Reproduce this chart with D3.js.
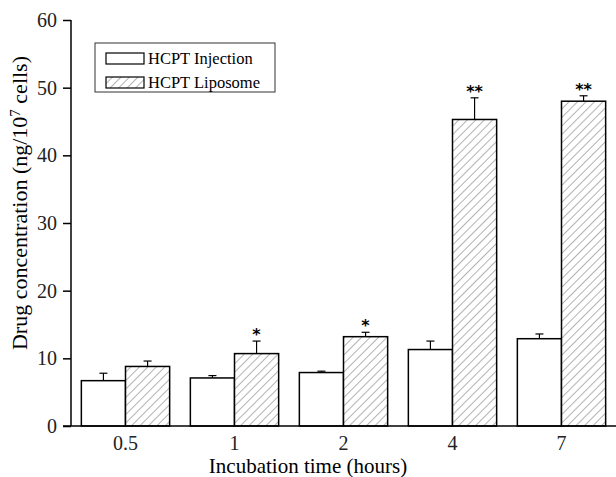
<!DOCTYPE html>
<html>
<head>
<meta charset="utf-8">
<script src="https://cdn.jsdelivr.net/npm/d3@7"></script>
<style>
  body { margin: 0; background: #fff; }
  svg text { font-family: "Liberation Serif", "Times New Roman", "DejaVu Serif", serif; }
  svg text.star { font-family: "DejaVu Sans", sans-serif; }
</style>
</head>
<body>
<script>
const categories = ["0.5", "1", "2", "4", "7"];
const series = ["HCPT Injection", "HCPT Liposome"];
const injection = [6.7, 7.1, 7.9, 11.3, 12.9];
const injectionErr = [1.1, 0.35, 0.2, 1.25, 0.7];
const liposome = [8.8, 10.7, 13.2, 45.3, 48.0];
const liposomeErr = [0.8, 1.85, 0.65, 3.2, 0.8];
const stars = ["", "*", "*", "**", "**"];
const yTicks = [0, 10, 20, 30, 40, 50, 60];

const w = 616;
const h = 477;
const mLeft = 71, mRight = 616, mTop = 20, mBottom = 426;

const svg = d3.select("body").append("svg").attr("width", w).attr("height", h);

const defs = svg.append("defs");
const pat = defs.append("pattern")
  .attr("id", "hatch")
  .attr("patternUnits", "userSpaceOnUse")
  .attr("width", 6).attr("height", 6)
  .attr("patternTransform", "rotate(45)");
pat.append("rect").attr("width", 6).attr("height", 6).attr("fill", "#fff");
pat.append("line").attr("x1", 0).attr("y1", 0).attr("x2", 0).attr("y2", 6)
  .attr("stroke", "#666").attr("stroke-width", 1);

const x = d3.scaleBand().domain(categories).range([mLeft, mRight]).paddingInner(0.19).paddingOuter(0.095);
const xSub = d3.scaleBand().domain(series).range([0, x.bandwidth()]);
const y = d3.scaleLinear().domain([0, 60]).range([mBottom, mTop]);

const rows = categories.map((c, i) => ({
  c,
  vals: [
    { s: series[0], v: injection[i], e: injectionErr[i], fill: "#fff" },
    { s: series[1], v: liposome[i], e: liposomeErr[i], fill: "url(#hatch)" }
  ],
  star: stars[i]
}));

const g = svg.selectAll("g.grp").data(rows).enter().append("g")
  .attr("transform", d => `translate(${x(d.c)},0)`);

// error bars (upward only)
g.selectAll("g.err").data(d => d.vals).enter().append("g").each(function (d) {
  const cx = xSub(d.s) + xSub.bandwidth() / 2;
  const sel = d3.select(this);
  sel.append("line").attr("x1", cx).attr("x2", cx)
    .attr("y1", y(d.v)).attr("y2", y(d.v + d.e))
    .attr("stroke", "#000").attr("stroke-width", 1.2);
  sel.append("line").attr("x1", cx - 4).attr("x2", cx + 4)
    .attr("y1", y(d.v + d.e)).attr("y2", y(d.v + d.e))
    .attr("stroke", "#000").attr("stroke-width", 1.2);
});

g.selectAll("rect").data(d => d.vals).enter().append("rect")
  .attr("x", d => xSub(d.s))
  .attr("y", d => y(d.v))
  .attr("width", xSub.bandwidth())
  .attr("height", d => y(0) - y(d.v))
  .attr("fill", d => d.fill)
  .attr("stroke", "#000")
  .attr("stroke-width", 1.5);

g.append("text")
  .attr("class", "star")
  .attr("x", xSub(series[1]) + xSub.bandwidth() / 2)
  .attr("y", d => y(d.vals[1].v + d.vals[1].e) - 1)
  .attr("text-anchor", "middle")
  .attr("font-size", 16)
  .attr("font-weight", "bold")
  .text(d => d.star);

// y axis
const yAxis = d3.axisLeft(y).tickValues(yTicks).tickSize(8).tickPadding(6);
const ya = svg.append("g").attr("transform", `translate(${mLeft},0)`).call(yAxis);
ya.select(".domain").attr("stroke-width", 1.5).attr("d", `M-0,${mTop}V${mBottom}`);
ya.selectAll(".tick line").attr("stroke-width", 1.5);
ya.selectAll("text").attr("font-size", 20).attr("fill", "#222");

// x axis
const xAxis = d3.axisBottom(x).tickSize(0).tickPadding(10);
const xa = svg.append("g").attr("transform", `translate(0,${mBottom})`).call(xAxis);
xa.select(".domain").attr("stroke-width", 1.5).attr("d", `M${mLeft - 8},0H${mRight}`);
xa.selectAll("text").attr("font-size", 20).attr("fill", "#222");

svg.append("text")
  .attr("x", 308).attr("y", 473)
  .attr("text-anchor", "middle").attr("font-size", 21)
  .text("Incubation time (hours)");

const yl = svg.append("text")
  .attr("transform", "translate(27,203) rotate(-90)")
  .attr("text-anchor", "middle").attr("font-size", 22);
yl.append("tspan").text("Drug concentration (ng/10");
yl.append("tspan").attr("font-size", 15).attr("dy", -7).text("7");
yl.append("tspan").attr("dy", 7).text(" cells)");

// legend
const lg = svg.append("g").attr("transform", "translate(95,43)");
lg.append("rect").attr("width", 180).attr("height", 49)
  .attr("fill", "#fff").attr("stroke", "#333").attr("stroke-width", 1);
series.forEach((s, i) => {
  lg.append("rect").attr("x", 11).attr("y", 10 + i * 24).attr("width", 38).attr("height", 11)
    .attr("fill", i ? "url(#hatch)" : "#fff").attr("stroke", "#000").attr("stroke-width", 1.2);
  lg.append("text").attr("x", 53).attr("y", 21 + i * 24).attr("font-size", 16.5).text(s);
});
</script>
</body>
</html>
